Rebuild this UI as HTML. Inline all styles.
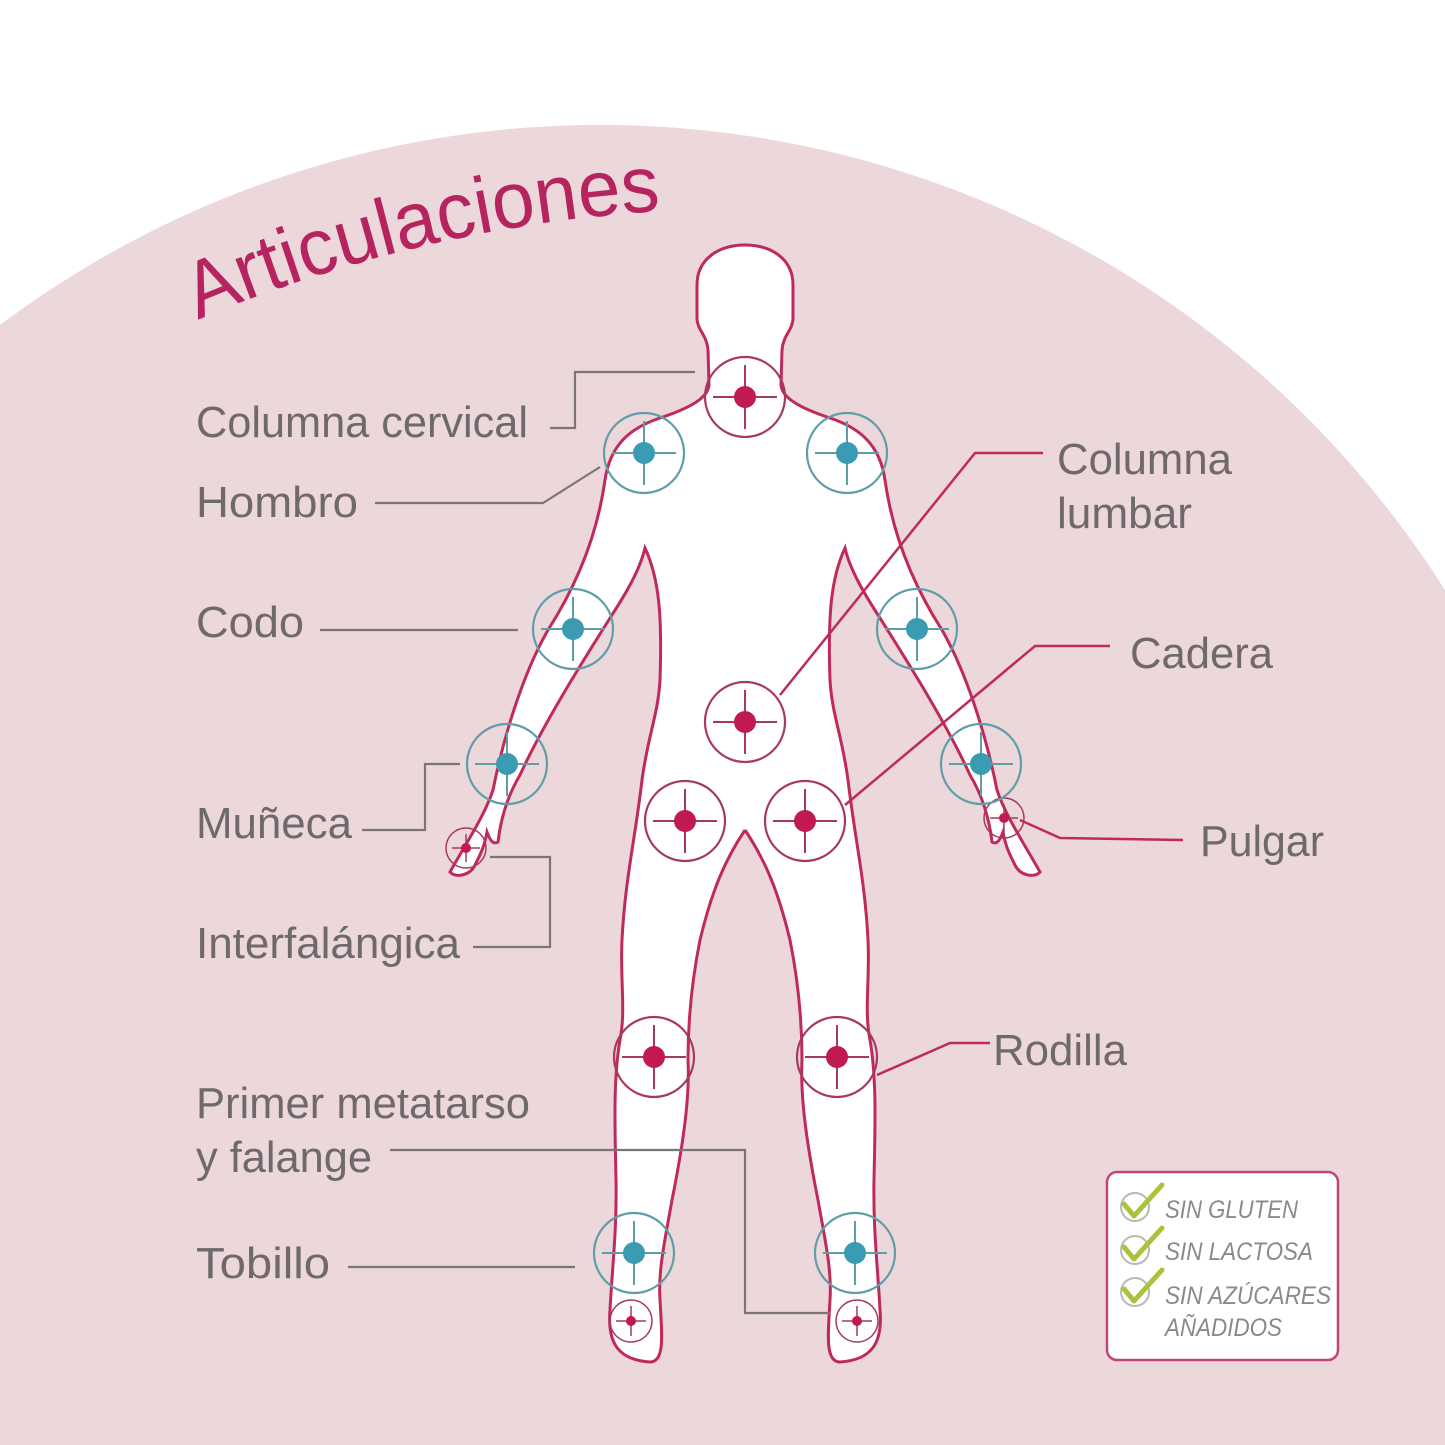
<!DOCTYPE html>
<html><head><meta charset="utf-8"><style>
html,body{margin:0;padding:0;background:#fff;width:1445px;height:1445px;overflow:hidden;position:relative}
svg{display:block;position:absolute;left:0;top:0;width:1445px;height:1445px;overflow:hidden}
.lb{font-family:"Liberation Sans",sans-serif;font-size:44px;fill:#6e6a6c}
.bx{font-family:"Liberation Sans",sans-serif;font-style:italic;font-size:25px;fill:#8a8a8a}
</style></head><body>
<svg width="1445" height="1445" viewBox="0 0 1445 1445" xmlns="http://www.w3.org/2000/svg">
<rect width="1445" height="1445" fill="#fff"/>
<path d="M0,325 A1000,1000 0 0 1 1445,590 L1445,1445 L0,1445 Z" fill="#ecd7db"/>
<defs>
<path id="arc" d="M198,320 Q420,225 672,210"/>
<path id="half" d="M745,245 C720,245 697,258 697,285 L697,318 C697,330 707,335 708,350 L709,385 C708,398 690,408 660,418 C630,428 610,445 605,480 C598,530 580,580 548,630 C525,670 505,730 493,790 C485,815 465,845 450,872 C455,878 470,876 475,865 C480,855 484,848 487,832 C490,840 493,845 498,842 C500,825 505,800 520,775 C545,720 590,650 610,618 C625,595 640,570 645,548 C660,580 662,620 660,680 C658,715 648,735 642,780 C635,840 625,880 622,940 C620,980 626,1010 620,1040 C613,1080 615,1130 616,1180 C617,1230 612,1270 610,1310 C607,1345 620,1360 650,1362 C665,1362 662,1335 660,1300 C658,1270 665,1240 672,1200 C682,1150 690,1100 688,1060 C688,1020 692,980 700,940 C712,890 725,860 745,830"/>
</defs>
<text font-family="'Liberation Sans',sans-serif" font-size="80" fill="#b5245f"><textPath href="#arc" textLength="478" lengthAdjust="spacingAndGlyphs">Articulaciones</textPath></text>

<g fill="#fff" stroke="none">
<use href="#half"/>
<use href="#half" transform="translate(1490,0) scale(-1,1)"/>
<rect x="735" y="250" width="20" height="580"/>
</g>
<g fill="none" stroke="#bf2a5b" stroke-width="3">
<use href="#half"/>
<use href="#half" transform="translate(1490,0) scale(-1,1)"/>
</g>

<g fill="none" stroke="#7a7678" stroke-width="2.2">
<polyline points="550,428 575,428 575,372 695,372"/>
<polyline points="375,503 543,503 600,467"/>
<line x1="320" y1="630" x2="518" y2="630"/>
<polyline points="362,830 425,830 425,764 460,764"/>
<polyline points="473,947 550,947 550,857 490,857"/>
<polyline points="390,1150 745,1150 745,1313 830,1313"/>
<line x1="348" y1="1267" x2="575" y2="1267"/>
</g>
<g fill="none" stroke="#bf2a5b" stroke-width="2.5">
<polyline points="1043,453 975,453 780,695"/>
<polyline points="1110,646 1035,646 845,805"/>
<polyline points="1020,820 1060,838 1183,840"/>
<polyline points="990,1043 950,1043 877,1075"/>
</g>

<g>
<g stroke="#a63a5c" stroke-width="2.2" fill="none">
<circle cx="745" cy="397" r="40"/><circle cx="745" cy="722" r="40"/>
<circle cx="685" cy="821" r="40"/><circle cx="805" cy="821" r="40"/>
<circle cx="654" cy="1057" r="40"/><circle cx="837" cy="1057" r="40"/>
<circle cx="466" cy="848" r="20" stroke-width="1.5"/><circle cx="1004" cy="818" r="20" stroke-width="1.5"/>
<circle cx="631" cy="1321" r="21" stroke-width="1.5"/><circle cx="857" cy="1321" r="21" stroke-width="1.5"/>
<path d="M745,365V429M713,397H777M745,690V754M713,722H777M685,789V853M653,821H717M805,789V853M773,821H837M654,1025V1089M622,1057H686M837,1025V1089M805,1057H869" stroke-width="2"/>
<path d="M466,834V862M452,848H480M1004,804V832M990,818H1018M631,1306V1336M616,1321H646M857,1306V1336M842,1321H872" stroke-width="1.5"/>
</g>
<g stroke="#5f9ea8" stroke-width="2.2" fill="none">
<circle cx="644" cy="453" r="40"/><circle cx="847" cy="453" r="40"/>
<circle cx="573" cy="629" r="40"/><circle cx="917" cy="629" r="40"/>
<circle cx="507" cy="764" r="40"/><circle cx="981" cy="764" r="40"/>
<circle cx="634" cy="1253" r="40"/><circle cx="855" cy="1253" r="40"/>
<path d="M644,421V485M612,453H676M847,421V485M815,453H879M573,597V661M541,629H605M917,597V661M885,629H949M507,732V796M475,764H539M981,732V796M949,764H1013M634,1221V1285M602,1253H666M855,1221V1285M823,1253H887" stroke-width="2"/>
</g>
<g fill="#c01a50">
<circle cx="745" cy="397" r="11"/><circle cx="745" cy="722" r="11"/>
<circle cx="685" cy="821" r="11"/><circle cx="805" cy="821" r="11"/>
<circle cx="654" cy="1057" r="11"/><circle cx="837" cy="1057" r="11"/>
<circle cx="466" cy="848" r="5"/><circle cx="1004" cy="818" r="5"/>
<circle cx="631" cy="1321" r="5"/><circle cx="857" cy="1321" r="5"/>
</g>
<g fill="#3a9bb3">
<circle cx="644" cy="453" r="11"/><circle cx="847" cy="453" r="11"/>
<circle cx="573" cy="629" r="11"/><circle cx="917" cy="629" r="11"/>
<circle cx="507" cy="764" r="11"/><circle cx="981" cy="764" r="11"/>
<circle cx="634" cy="1253" r="11"/><circle cx="855" cy="1253" r="11"/>
</g>
</g>

<text class="lb" x="196" y="437" textLength="332" lengthAdjust="spacingAndGlyphs">Columna cervical</text>
<text class="lb" x="196" y="517" textLength="162" lengthAdjust="spacingAndGlyphs">Hombro</text>
<text class="lb" x="196" y="637" textLength="108" lengthAdjust="spacingAndGlyphs">Codo</text>
<text class="lb" x="196" y="838" textLength="156" lengthAdjust="spacingAndGlyphs">Muñeca</text>
<text class="lb" x="196" y="958" textLength="264" lengthAdjust="spacingAndGlyphs">Interfalángica</text>
<text class="lb" x="196" y="1118" textLength="334" lengthAdjust="spacingAndGlyphs">Primer metatarso</text>
<text class="lb" x="196" y="1172" textLength="176" lengthAdjust="spacingAndGlyphs">y falange</text>
<text class="lb" x="196" y="1278" textLength="134" lengthAdjust="spacingAndGlyphs">Tobillo</text>
<text class="lb" x="1057" y="474" textLength="175" lengthAdjust="spacingAndGlyphs">Columna</text>
<text class="lb" x="1057" y="528" textLength="135" lengthAdjust="spacingAndGlyphs">lumbar</text>
<text class="lb" x="1130" y="668" textLength="143" lengthAdjust="spacingAndGlyphs">Cadera</text>
<text class="lb" x="1200" y="856" textLength="124" lengthAdjust="spacingAndGlyphs">Pulgar</text>
<text class="lb" x="993" y="1065" textLength="134" lengthAdjust="spacingAndGlyphs">Rodilla</text>

<rect x="1107" y="1172" width="231" height="188" rx="10" fill="#fff" stroke="#c0467a" stroke-width="2.5"/>
<g fill="none" stroke="#b8b8b8" stroke-width="2">
<circle cx="1135" cy="1207" r="14"/><circle cx="1135" cy="1250" r="14"/><circle cx="1135" cy="1292" r="14"/>
</g>
<g fill="none" stroke="#a7c43a" stroke-width="5" stroke-linecap="round" stroke-linejoin="round">
<polyline points="1124,1204 1134,1216 1162,1185"/>
<polyline points="1124,1247 1134,1259 1162,1228"/>
<polyline points="1124,1289 1134,1301 1162,1270"/>
</g>
<text class="bx" x="1165" y="1218" textLength="133" lengthAdjust="spacingAndGlyphs">SIN GLUTEN</text>
<text class="bx" x="1165" y="1260" textLength="148" lengthAdjust="spacingAndGlyphs">SIN LACTOSA</text>
<text class="bx" x="1165" y="1304" textLength="166" lengthAdjust="spacingAndGlyphs">SIN AZÚCARES</text>
<text class="bx" x="1165" y="1336" textLength="117" lengthAdjust="spacingAndGlyphs">AÑADIDOS</text>
</svg>
</body></html>
